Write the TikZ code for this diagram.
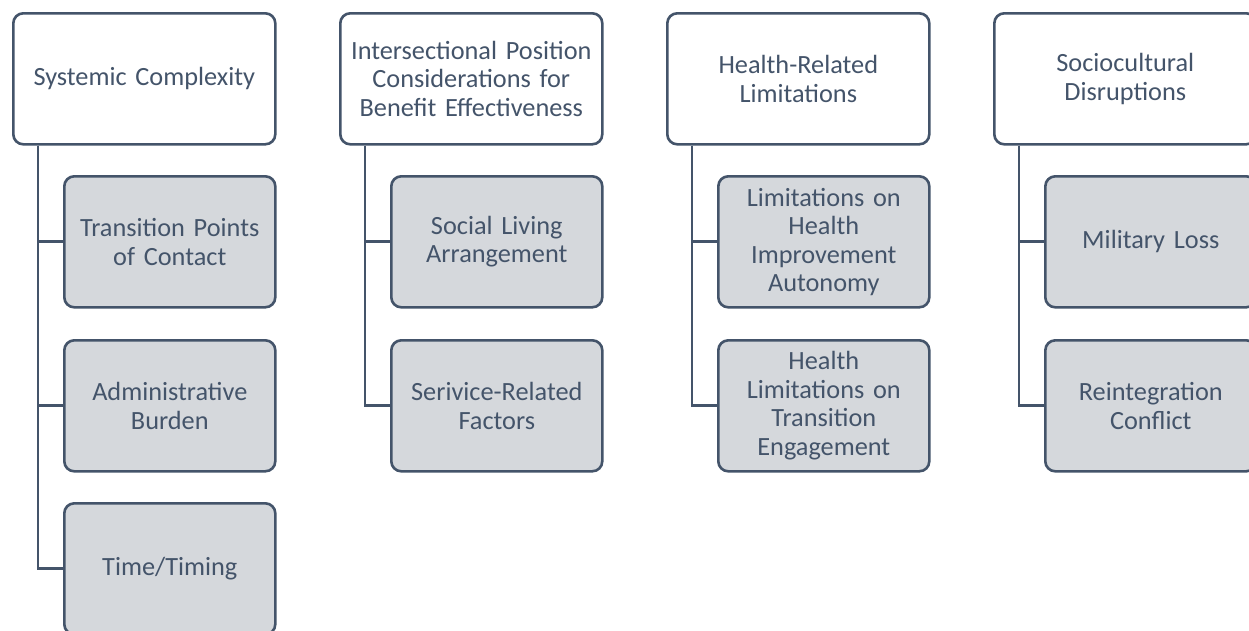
\documentclass[tikz,border=0pt]{standalone}
\usepackage{fontspec}
\setmainfont{Carlito}
\definecolor{ink}{HTML}{44546A}
\definecolor{boxfill}{HTML}{D5D8DC}
\begin{document}
\begin{tikzpicture}[x=1pt,y=-1pt,
  base/.style={draw=ink, line width=2.6pt, rounded corners=10pt, text=ink,
    align=center, inner sep=0pt, minimum height=131pt, text width=252pt,
    font=\fontsize{26.3}{28.5}\selectfont},
  rootbox/.style={base, fill=white, minimum width=262pt},
  leafbox/.style={base, fill=boxfill, minimum width=211pt, text width=205pt},
  link/.style={draw=ink, line width=2.7pt}]
\useasboundingbox (0,0) rectangle (1249,630);

% column 1
\node[rootbox, anchor=north west] (r1) at (12,12) {Systemic Complexity};
\node[leafbox, anchor=north west] (c11) at (63,175) {Transition Points\\of Contact};
\node[leafbox, anchor=north west] (c12) at (63,339) {Administrative\\Burden};
\node[leafbox, anchor=north west] (c13) at (63,502) {Time/Timing};

% column 2
\node[rootbox, anchor=north west] (r2) at (339,12) {Intersectional Position\\Considerations for\\Benefit Effectiveness};
\node[leafbox, anchor=north west] (c21) at (390,175) {Social Living\\Arrangement};
\node[leafbox, anchor=north west] (c22) at (390,339) {Serivice-Related\\Factors};

% column 3
\node[rootbox, anchor=north west] (r3) at (666,12) {Health-Related\\Limitations};
\node[leafbox, anchor=north west] (c31) at (717,175) {Limitations on\\Health\\Improvement\\Autonomy};
\node[leafbox, anchor=north west] (c32) at (717,339) {Health\\Limitations on\\Transition\\Engagement};

% column 4
\node[rootbox, anchor=north west] (r4) at (993,12) {Sociocultural\\Disruptions};
\node[leafbox, anchor=north west] (c41) at (1044,175) {Military Loss};
\node[leafbox, anchor=north west] (c42) at (1044,339) {Reintegration\\Conflict};

% elbow connectors from each header down to its items
\foreach \r/\c in {r1/c11,r1/c12,r1/c13,r2/c21,r2/c22,r3/c31,r3/c32,r4/c41,r4/c42}
  \draw[link] ([xshift=26pt]\r.south west) |- (\c.west);
\end{tikzpicture}
\end{document}
